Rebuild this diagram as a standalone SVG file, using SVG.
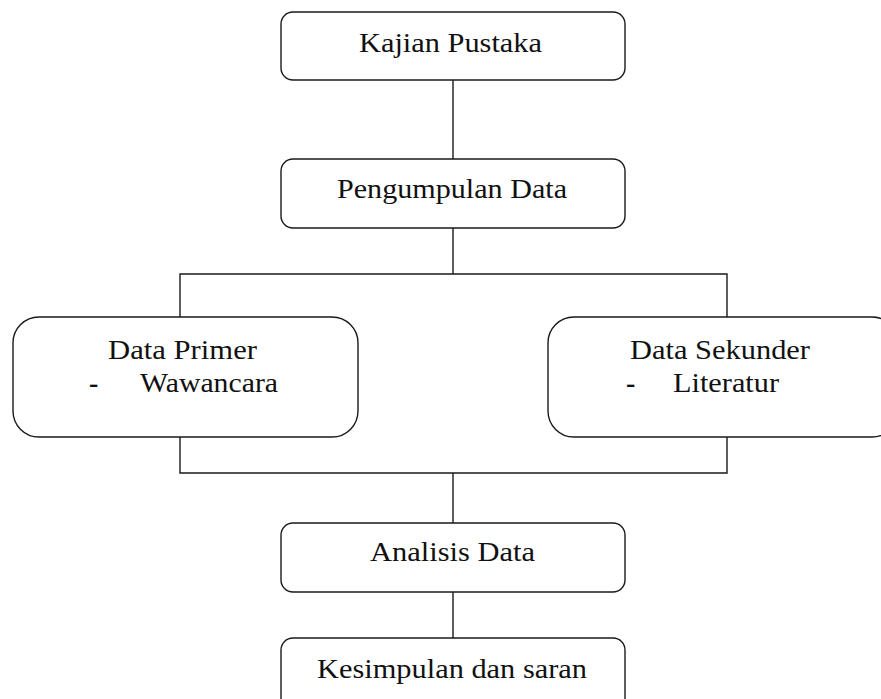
<svg xmlns="http://www.w3.org/2000/svg" width="881" height="699" viewBox="0 0 881 699">
<style>
.box{fill:#fff;stroke:#1a1a1a;stroke-width:1.4}
.t{font-family:'Liberation Serif','Times New Roman','DejaVu Serif',serif;font-size:28px;fill:#111}
.c{fill:none;stroke:#1a1a1a;stroke-width:1.4}
</style>
<rect width="881" height="699" fill="#fff"/>
<g id="connectors">
<line class="c" x1="453" y1="80" x2="453" y2="159"/>
<polyline class="c" points="453,228 453,274"/>
<polyline class="c" points="180,317 180,274 727,274 727,317"/>
<polyline class="c" points="180,437 180,473 727,473 727,437"/>
<line class="c" x1="453" y1="473" x2="453" y2="523"/>
<line class="c" x1="453" y1="592" x2="453" y2="638"/>
</g>
<g id="kajian">
<rect class="box" x="281" y="12" width="344" height="68" rx="12"/>
<text class="t" font-family="Liberation Serif, serif" x="359" y="52" textLength="183" lengthAdjust="spacingAndGlyphs">Kajian Pustaka</text>
</g>
<g id="pengumpulan">
<rect class="box" x="281" y="159" width="344" height="69" rx="12"/>
<text class="t" font-family="Liberation Serif, serif" x="337" y="198" textLength="230" lengthAdjust="spacingAndGlyphs">Pengumpulan Data</text>
</g>
<g id="primer">
<rect class="box" x="13" y="317" width="345" height="120" rx="26"/>
<text class="t" font-family="Liberation Serif, serif" x="108" y="359" textLength="149" lengthAdjust="spacingAndGlyphs">Data Primer</text>
<text class="t" font-family="Liberation Serif, serif" x="89" y="392" font-weight="bold">-</text>
<text class="t" font-family="Liberation Serif, serif" x="140" y="392" textLength="138" lengthAdjust="spacingAndGlyphs">Wawancara</text>
</g>
<g id="sekunder">
<rect class="box" x="548" y="317" width="350" height="120" rx="26"/>
<text class="t" font-family="Liberation Serif, serif" x="630" y="359" textLength="180" lengthAdjust="spacingAndGlyphs">Data Sekunder</text>
<text class="t" font-family="Liberation Serif, serif" x="626" y="392" font-weight="bold">-</text>
<text class="t" font-family="Liberation Serif, serif" x="673" y="392" textLength="106" lengthAdjust="spacingAndGlyphs">Literatur</text>
</g>
<g id="analisis">
<rect class="box" x="281" y="523" width="344" height="69" rx="12"/>
<text class="t" font-family="Liberation Serif, serif" x="370" y="561" textLength="165" lengthAdjust="spacingAndGlyphs">Analisis Data</text>
</g>
<g id="kesimpulan">
<rect class="box" x="281" y="638" width="344" height="80" rx="12"/>
<text class="t" font-family="Liberation Serif, serif" x="317" y="678" textLength="270" lengthAdjust="spacingAndGlyphs">Kesimpulan dan saran</text>
</g>
</svg>
